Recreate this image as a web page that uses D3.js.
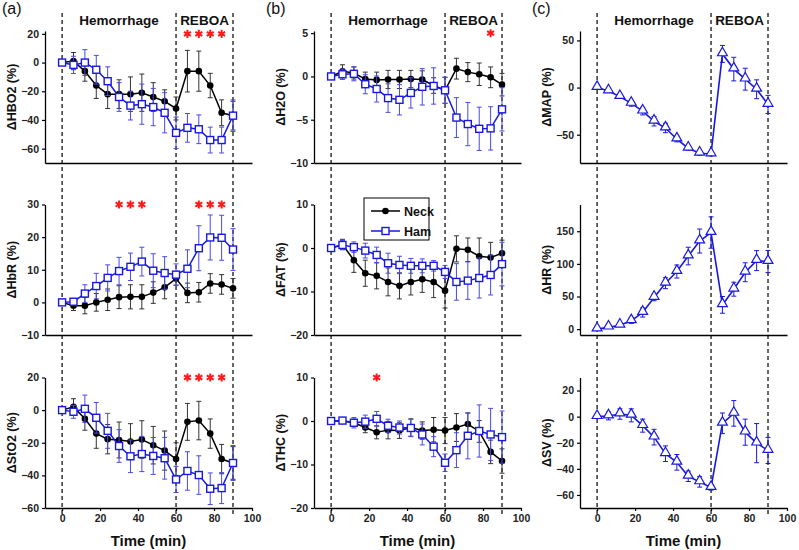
<!DOCTYPE html>
<html><head><meta charset="utf-8">
<script src="https://cdn.jsdelivr.net/npm/d3@7"></script>
<style>
body{margin:0;background:#fff}
text{font-family:"Liberation Sans",Arial,sans-serif}
</style>
</head><body>
<svg id="chart" width="799" height="550"></svg>
<script>
// ---------------- DATA ----------------
const times = [0,6,12,18,24,30,36,42,48,54,60,66,72,78,84,90];
const xTicks = [0,20,40,60,80,100];
const phaseMarks = [0,60,90];
const phaseNames = ["Hemorrhage","REBOA"];
const columnTitles = ["(a)","(b)","(c)"];
const seriesNames = ["Neck","Ham"];

// (a) HBO2
const hbo2Neck    = [0,1,-6,-16,-22,-22,-22,-21,-24,-27,-32,-6,-6,-16,-35,-37];
const hbo2NeckErr = [0,6,7,9,10,10,12,13,10,8,8,14.5,14,8.5,9,10];
const hbo2Ham     = [0,-1.6,0,-5,-13,-24,-30,-29,-31,-35,-49,-45.5,-46.5,-54,-54,-37];
const hbo2HamErr  = [0,6,9,10,10,10,10,14,13,14,11,10,10,9,9,11];
const hbo2Stars   = [66,72,78,84];
// (a) HbR
const hbrNeck     = [0,-1,-1,0,0.8,1.6,1.7,1.7,3,4.6,7.3,2.9,3.1,5.8,5.5,4.3];
const hbrNeckErr  = [0,1.5,2.5,2.7,3.3,3.5,3.7,3.7,3.3,3.5,2,3,3,3,3,3];
const hbrHam      = [0,0.2,2.7,5,7.5,9.6,10.9,12.5,9.7,9,8.5,10.3,16.6,19.9,19.8,16.2];
const hbrHamErr   = [0,1,2.7,3.9,4,4.2,4.2,4.4,5.2,5,3.3,5.8,6.9,6.9,6.9,6.4];
const hbrStars    = [30,36,42,72,78,84];
// (a) StO2
const sto2Neck    = [0,2,-5.3,-14.4,-17.8,-18.3,-19.3,-18,-21.5,-24.8,-30,-7.2,-6.4,-14.4,-30,-32.4];
const sto2NeckErr = [0,5,7,9,9,11,11,11.5,11.5,12,10,11.3,11.8,9,9,10];
const sto2Ham     = [0,-1,0.8,-4.7,-12.7,-22,-28.3,-26.9,-28.1,-29.5,-42.5,-37.3,-39.8,-48.2,-47.8,-32.4];
const sto2HamErr  = [0,4,8.4,9.4,10.7,10,10,10.8,11.3,12.8,8,11.8,11.8,9.7,9.5,10.7];
const sto2Stars   = [66,72,78,84];
// (b) H2O
const h2oNeck     = [0,0.6,0.4,-0.3,-0.4,-0.35,-0.35,-0.3,-0.35,-1.05,-1.6,0.9,0.5,0.25,-0.1,-0.95];
const h2oNeckErr  = [0,0.75,0.7,0.8,0.9,1.05,1.05,1,1,0.9,1.5,1.2,1.1,1.3,1.2,1.3];
const h2oHam      = [0,0.25,0.3,-0.9,-1.45,-2.5,-2.7,-1.9,-1.2,-1.1,-1.6,-4.75,-5.5,-6.05,-6,-3.8];
const h2oHamErr   = [0,0.6,0.8,1.1,1.5,1.65,1.75,1.75,2.1,2.1,1.5,2.3,2.5,2.5,2.5,2.5];
const h2oStars    = [84];
// (b) FAT
const fatNeck     = [0,0.8,-2.8,-5.8,-6.4,-7.8,-8.7,-7.8,-7.2,-7.8,-9.8,-0.2,-0.4,-1.9,-2.2,-1.2];
const fatNeckErr  = [0,1.2,2.8,3,3,3.2,3,3,3,3.6,4,3,2.7,4.2,3.5,3];
const fatHam      = [0,0.7,0.2,-0.6,-1.6,-3.5,-3.9,-4.1,-4.1,-4.1,-5.5,-7.8,-7.5,-6.9,-6.2,-3.7];
const fatHamErr   = [0,1,1.2,1.7,1.8,2.3,2,1.7,1.6,1.2,1.5,4.2,4.3,4.6,4.6,5];
const fatStars    = [];
// (b) THC
const thcNeck     = [0,0,-0.4,-1.5,-2.6,-2.1,-2.2,-1.5,-2.2,-2,-2.2,-1.5,-0.7,-2.4,-7.1,-9.2];
const thcNeckErr  = [0,0.5,0.8,1.2,1.5,2,1.8,2,2,2.8,3,3.2,2.5,2.5,2.7,2.8];
const thcHam      = [0,0.1,-0.4,-0.15,0.5,-1.1,-1.5,-1.6,-3.1,-5.9,-9.6,-6.7,-3.4,-2.3,-3.1,-3.7];
const thcHamErr   = [0,0.6,1.2,1.5,1.7,1.5,1.5,2,2.4,2.3,2,4,5.3,6,6,6];
const thcStars    = [24];
// (c) hemodynamics
const mapVals = [0,-3.6,-9.6,-16.8,-25,-35.7,-42.9,-54.6,-64.3,-69.6,-70.4,35.7,19.6,8.9,-1.8,-17.9];
const mapErr  = [0,1,2,3,4,5,5,3,2,2,2,9,12.5,11.6,10,9.6];
const hrVals  = [0,3,6,12.8,25.5,48.5,70.4,88.3,112,135,148,37.2,61.2,87.2,105,103.6];
const hrErr   = [0,2,2,4,7,5,8.4,10,13.5,18.4,24,12.8,10.7,14.5,15.3,17];
const svVals  = [0,0.5,2,1,-6.9,-15.7,-28.4,-35,-45.7,-50,-54.3,-5.1,2.5,-11.9,-20.3,-25.9];
const svErr   = [0,3,4,5,5,6,6,6,4,4,2,7.9,9.8,10,15,10];

// ---------------- LAYOUT ----------------
const NECK = "#000000", HAM = "#1818e0", RED = "#ff1a1a";
const colLeft = [45, 314, 580];
const plotW = 207;
const rows = [[163,31],[335,204.5],[508,377.5]];

const svg = d3.select("#chart");

const panels = [
  {c:0,r:0,label:"ΔHBO2 (%)",dom:[-70,22],ticks:[-60,-40,-20,0,20],neck:hbo2Neck,neckErr:hbo2NeckErr,ham:hbo2Ham,hamErr:hbo2HamErr,stars:hbo2Stars,starLvl:20},
  {c:0,r:1,label:"ΔHbR (%)",dom:[-10,30],ticks:[-10,0,10,20,30],neck:hbrNeck,neckErr:hbrNeckErr,ham:hbrHam,hamErr:hbrHamErr,stars:hbrStars,starLvl:30},
  {c:0,r:2,label:"ΔStO2 (%)",dom:[-60,20],ticks:[-60,-40,-20,0,20],neck:sto2Neck,neckErr:sto2NeckErr,ham:sto2Ham,hamErr:sto2HamErr,stars:sto2Stars,starLvl:20},
  {c:1,r:0,label:"ΔH2O (%)",dom:[-10,5.25],ticks:[-10,-5,0,5],neck:h2oNeck,neckErr:h2oNeckErr,ham:h2oHam,hamErr:h2oHamErr,stars:h2oStars,starLvl:5},
  {c:1,r:1,label:"ΔFAT (%)",dom:[-20,10],ticks:[-20,-10,0,10],neck:fatNeck,neckErr:fatNeckErr,ham:fatHam,hamErr:fatHamErr,stars:fatStars,starLvl:10,legend:true},
  {c:1,r:2,label:"ΔTHC (%)",dom:[-20,10],ticks:[-20,-10,0,10],neck:thcNeck,neckErr:thcNeckErr,ham:thcHam,hamErr:thcHamErr,stars:thcStars,starLvl:10},
  {c:2,r:0,label:"ΔMAP (%)",dom:[-80,60],ticks:[-50,0,50],tri:mapVals,triErr:mapErr},
  {c:2,r:1,label:"ΔHR (%)",dom:[-9,191],ticks:[0,50,100,150],tri:hrVals,triErr:hrErr},
  {c:2,r:2,label:"ΔSV (%)",dom:[-70,30],ticks:[-60,-40,-20,0,20],tri:svVals,triErr:svErr}
];

const xScales = colLeft.map(l => d3.scaleLinear().domain([-9,100]).range([l, l+plotW]));

// column decorations
colLeft.forEach((l,ci) => {
  const x = xScales[ci];
  svg.append("text").attr("x", l-43 + (ci>0?-5:0)).attr("y", 14).attr("font-size", 16).attr("fill","#111").text(columnTitles[ci]);
  phaseMarks.forEach(t => {
    svg.append("line").attr("x1", x(t)).attr("x2", x(t)).attr("y1", 13).attr("y2", 515)
      .attr("stroke","#000").attr("stroke-width",1.2).attr("stroke-dasharray","4,3");
  });
  svg.append("text").attr("x", x((phaseMarks[0]+phaseMarks[1])/2)).attr("y", 25)
    .attr("text-anchor","middle").attr("font-size",13.5).attr("font-weight","bold").attr("fill","#111").text(phaseNames[0]);
  svg.append("text").attr("x", x((phaseMarks[1]+phaseMarks[2])/2)).attr("y", 25)
    .attr("text-anchor","middle").attr("font-size",13.5).attr("font-weight","bold").attr("fill","#111").text(phaseNames[1]);
});

function errorBars(g, x, y, vals, errs, color){
  const cap = 2.5;
  times.forEach((t,i) => {
    if (!errs[i]) return;
    const xx = x(t), y1 = y(vals[i]-errs[i]), y2 = y(vals[i]+errs[i]);
    g.append("line").attr("x1",xx).attr("x2",xx).attr("y1",y1).attr("y2",y2).attr("stroke",color).attr("stroke-width",1);
    g.append("line").attr("x1",xx-cap).attr("x2",xx+cap).attr("y1",y1).attr("y2",y1).attr("stroke",color).attr("stroke-width",1);
    g.append("line").attr("x1",xx-cap).attr("x2",xx+cap).attr("y1",y2).attr("y2",y2).attr("stroke",color).attr("stroke-width",1);
  });
}

panels.forEach(p => {
  const x = xScales[p.c];
  const [yb, yt] = rows[p.r];
  const y = d3.scaleLinear().domain(p.dom).range([yb, yt]);
  const g = svg.append("g");
  const left = colLeft[p.c];

  // y axis
  const ya = g.append("g").attr("transform",`translate(${left},0)`)
    .call(d3.axisLeft(y).tickValues(p.ticks).tickSize(3).tickSizeOuter(0).tickFormat(d => d < 0 ? "\u2212" + Math.abs(d) : d));
  ya.select(".domain").attr("stroke","#000").attr("stroke-width",1.3);
  ya.selectAll(".tick line").attr("stroke","#000").attr("stroke-width",1.2);
  ya.selectAll(".tick text").attr("font-size",10.5).attr("font-weight","bold").attr("fill","#222").attr("x",-6)
    .attr("font-family","'Liberation Sans',Arial,sans-serif");

  // x axis
  const xa = g.append("g").attr("transform",`translate(0,${yb})`);
  if (p.r === 2) {
    xa.call(d3.axisBottom(x).tickValues(xTicks).tickSize(3).tickSizeOuter(0));
    xa.selectAll(".tick text").attr("font-size",10.5).attr("font-weight","bold").attr("fill","#222").attr("y",7)
      .attr("font-family","'Liberation Sans',Arial,sans-serif");
    xa.selectAll(".tick line").attr("stroke","#000").attr("stroke-width",1.2);
    g.append("text").attr("x", (x.range()[0]+x.range()[1])/2).attr("y", 546).attr("text-anchor","middle")
      .attr("font-size",15).attr("font-weight","bold").attr("fill","#111").text("Time (min)");
  } else {
    xa.call(d3.axisBottom(x).tickValues([]).tickSizeOuter(0));
  }
  xa.select(".domain").attr("stroke","#000").attr("stroke-width",1.3);

  // y label
  g.append("text").attr("transform",`translate(${left-29},${(yb+yt)/2}) rotate(-90)`)
    .attr("text-anchor","middle").attr("font-size",12.5).attr("font-weight","bold").attr("fill","#111").text(p.label);

  const line = d3.line().x((d,i)=>x(times[i])).y(d=>y(d));

  if (p.tri) {
    errorBars(g, x, y, p.tri, p.triErr, HAM);
    g.append("path").datum(p.tri).attr("d", line).attr("fill","none").attr("stroke",HAM).attr("stroke-width",1.6);
    g.selectAll(null).data(p.tri).join("path")
      .attr("transform",(d,i)=>`translate(${x(times[i])},${y(d)-1})`)
      .attr("d", d3.symbol(d3.symbolTriangle, 42)())
      .attr("fill","#fff").attr("stroke",HAM).attr("stroke-width",1.2);
  } else {
    errorBars(g, x, y, p.neck, p.neckErr, "#333");
    g.append("path").datum(p.neck).attr("d", line).attr("fill","none").attr("stroke",NECK).attr("stroke-width",1.5);
    g.selectAll(null).data(p.neck).join("circle")
      .attr("cx",(d,i)=>x(times[i])).attr("cy",d=>y(d)).attr("r",3.3).attr("fill",NECK);
    errorBars(g, x, y, p.ham, p.hamErr, "#4a4ae6");
    g.append("path").datum(p.ham).attr("d", line).attr("fill","none").attr("stroke",HAM).attr("stroke-width",1.5);
    g.selectAll(null).data(p.ham).join("rect")
      .attr("x",(d,i)=>x(times[i])-3.5).attr("y",d=>y(d)-3.5).attr("width",7).attr("height",7)
      .attr("fill","#fff").attr("stroke",HAM).attr("stroke-width",1.4);
    // stars
    g.selectAll(null).data(p.stars).join("path")
      .attr("transform",d=>`translate(${x(d)},${y(p.starLvl)})`)
      .attr("d", d3.symbol(d3.symbolAsterisk, 45)())
      .attr("stroke",RED).attr("stroke-width",2).attr("fill","none");
  }

  if (p.legend) {
    const lg = g.append("g").attr("transform","translate(364,198)");
    lg.append("rect").attr("width",65).attr("height",42).attr("fill","#fff").attr("stroke","#000").attr("stroke-width",1);
    [0,1].forEach(k => {
      const yy = 13 + k*20;
      const col = k===0 ? NECK : HAM;
      lg.append("line").attr("x1",7).attr("x2",36).attr("y1",yy).attr("y2",yy).attr("stroke",col).attr("stroke-width",1.5);
      if (k===0) lg.append("circle").attr("cx",21.5).attr("cy",yy).attr("r",3.3).attr("fill",NECK);
      else lg.append("rect").attr("x",18).attr("y",yy-3.5).attr("width",7).attr("height",7).attr("fill","#fff").attr("stroke",HAM).attr("stroke-width",1.4);
      lg.append("text").attr("x",40).attr("y",yy+4.5).attr("font-size",12.5).attr("font-weight","bold").attr("fill","#111").text(seriesNames[k]);
    });
  }
});
</script>
</body></html>
